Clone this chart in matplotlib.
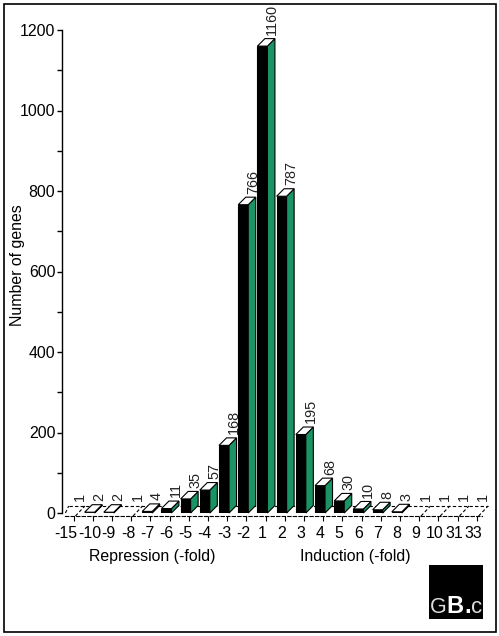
# Genes por nivel de cambio de expresion
import matplotlib
matplotlib.use("Agg")
import matplotlib.pyplot as plt
from matplotlib.patches import Polygon, Rectangle

# Datos
categorias = ['-15', '-10', '-9', '-8', '-7', '-6', '-5', '-4', '-3', '-2', '1',
              '2', '3', '4', '5', '6', '7', '8', '9', '10', '31', '33']
genes = [1, 2, 2, 1, 4, 11, 35, 57, 168, 766, 1160,
         787, 195, 68, 30, 10, 8, 3, 1, 1, 1, 1]

W, H = 499, 636
VERDE = '#1a9464'
plt.rcParams['font.family'] = ['Liberation Sans', 'DejaVu Sans']
plt.rcParams['font.size'] = 11.4

fig = plt.figure(figsize=(W / 100, H / 100), dpi=100)

# Eje colocado en pixeles de la imagen
x0, x1, y_top, y_base = 62, 495, 30, 513
ax = fig.add_axes([x0 / W, 1 - y_base / H, (x1 - x0) / W, (y_base - y_top) / H])
ax.patch.set_alpha(0)
paso = 19.2
ax.set_xlim((x0 - 73.5) / paso, (x1 - 73.5) / paso)
ax.set_ylim(0, 1200)
ux = 1 / paso                # una unidad de x por pixel
uy = 1200 / (y_base - y_top) # una unidad de y por pixel

for s in ['top', 'right']:
    ax.spines[s].set_visible(False)
ax.spines['left'].set_linewidth(1)

# Suelo punteado
fondo = 7 * uy
prof = 9.5 * ux
estilo = dict(color='black', lw=0.8, ls=(0, (3, 2)), zorder=1, clip_on=False)
ax.spines['bottom'].set_position(('outward', 2.2))
ax.spines['bottom'].set_linestyle((0, (3, 2)))
ax.spines['bottom'].set_linewidth(0.8)
ax.spines['bottom'].set_bounds(-0.42, 21.3)
ax.plot([-0.25, 21.6], [fondo, fondo], **estilo)
ax.plot([-0.42, -0.25], [0, fondo], **estilo)
for i, v in enumerate(genes):
    if v == 1:
        ax.plot([i + 0.1, i + 0.1 + prof], [-3 * uy, fondo], **estilo)

# Barras con volumen
dx = 7.5 * ux
dy = 7.5 * uy
for i, v in enumerate(genes):
    if v > 1:
        xa = i - 0.42
        xb = i + 0.1
        ax.add_patch(Rectangle((xa, 0), xb - xa, v, fc='black', ec='black', lw=0.8, zorder=3))
        ax.add_patch(Polygon([(xb, 0), (xb + dx, dy), (xb + dx, v + dy), (xb, v)],
                             fc=VERDE, ec='black', lw=0.8, zorder=3, clip_on=False))
        ax.add_patch(Polygon([(xa, v), (xb, v), (xb + dx, v + dy), (xa + dx, v + dy)],
                             fc='white', ec='black', lw=0.8, zorder=4, clip_on=False))
    ax.annotate(str(v), (i, v), xytext=(4.8, 8), textcoords='offset points',
                rotation=90, ha='center', va='bottom', fontsize=10.4, color='#222222',
                annotation_clip=False)

# Ejes
ax.set_yticks(range(0, 1201, 200))
ax.set_yticks(range(100, 1200, 200), minor=True)
ax.tick_params(axis='y', which='both', length=3.6, width=1, pad=1.2)
ax.set_xticks(range(len(categorias)))
ax.set_xticklabels([])
ax.tick_params(axis='x', length=3.6, width=0.8)
for i, c in enumerate(categorias):
    despl = -5.5 if c == '-15' else -2.3
    ax.annotate(c, (i, 0), xytext=(despl, -14.4), textcoords='offset points',
                ha='center', va='center', annotation_clip=False)

fig.text(17.5 / W, 1 - 265 / H, 'Number of genes', rotation=90, ha='center', va='center')
fig.text(152 / W, 1 - 556 / H, 'Repression (-fold)', ha='center', va='center')
fig.text(355 / W, 1 - 556 / H, 'Induction (-fold)', ha='center', va='center')

# Marco exterior
fig.add_artist(Rectangle((3.5 / W, 1 - 631.5 / H), 492 / W, 628 / H, fill=False, ec='black',
                         lw=1.2, transform=fig.transFigure))

# Logo
fig.add_artist(Rectangle((429 / W, 1 - 619 / H), 54 / W, 54 / H, fc='black', ec='none',
                         transform=fig.transFigure))
logo_y = 1 - 618 / H
fig.text(429.5 / W, logo_y, 'G', color='#dddddd', fontsize=15.5, va='bottom')
fig.text(446.5 / W, logo_y, 'B', color='white', fontsize=17, va='bottom', fontweight='bold')
fig.text(464 / W, logo_y, '.', color='white', fontsize=17, va='bottom', fontweight='bold')
fig.text(471.5 / W, logo_y, 'c', color='#dddddd', fontsize=16, va='bottom')

fig.savefig('out.png', dpi=100)
